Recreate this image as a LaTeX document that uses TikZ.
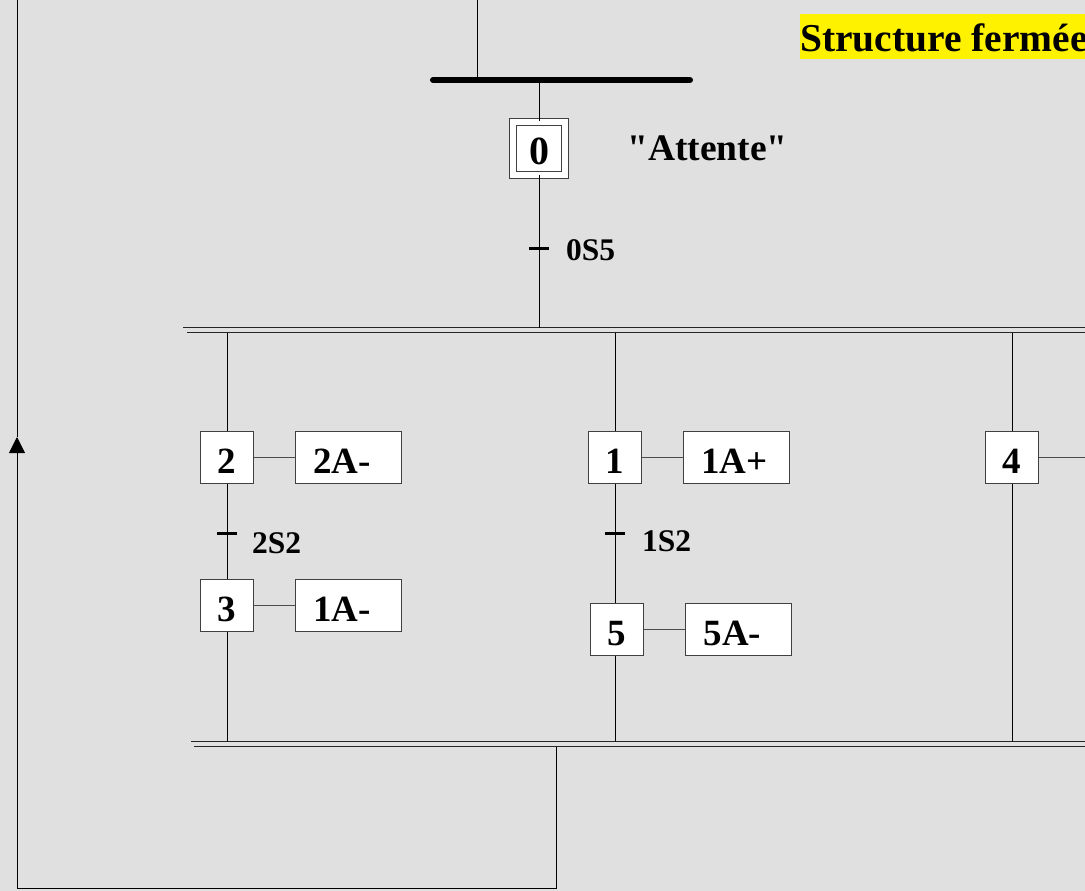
\documentclass[tikz,border=0pt]{standalone}
\usepackage{fontspec}
\setmainfont{Liberation Serif}[Ligatures=TeXOff]
\usetikzlibrary{arrows.meta}
\definecolor{fond}{HTML}{E0E0E0}

\begin{document}
\begin{tikzpicture}[x=1pt,y=-1pt,
    lien/.style={draw,black,line width=1pt},
    renvoi/.style={draw,black!70,line width=1pt},
    barre/.style={draw,black!85,line width=1.5pt},
    etape/.style={draw=black!75,fill=white,line width=1pt,minimum width=53pt,minimum height=52pt,inner sep=0pt,text height=32pt,text depth=0pt,font=\fontsize{37}{40}\selectfont\bfseries},
    etapeinit/.style={etape,double=white,double distance=6pt,minimum width=52pt,minimum height=53pt,font=\fontsize{40}{44}\selectfont\bfseries},
    action/.style={draw=black!75,fill=white,line width=1pt,text width=70pt,inner xsep=18pt,inner ysep=0pt,minimum height=52pt,align=left,text height=32pt,text depth=0pt,font=\fontsize{37}{40}\selectfont\bfseries},
    recep/.style={fill=black,minimum width=20pt,minimum height=3pt,inner sep=0pt},
    cond/.style={anchor=west,inner sep=0pt,font=\fontsize{31.5}{34}\selectfont\bfseries}]

    \fill[fond] (0,0) rectangle (1085,891);
    \useasboundingbox (0,0) rectangle (1085,891);

    % titre
    \node[anchor=base west,fill=yellow,inner xsep=0pt,inner ysep=0pt,text height=38pt,text depth=7pt,font=\fontsize{39.5}{44}\selectfont\bfseries] (titre) at (800,52) {Structure fermée};

    % etape initiale
    \coordinate (s0) at (477,0);
    \coordinate (s1) at (477,80);
    \coordinate (bg) at (433,80);
    \coordinate (bd) at (690,80);
    \path[draw,line width=6pt,line cap=round] (bg) -- (bd);
    \path[lien] (s0) -- (s1);
    \node[etapeinit] (e0) at (539,148) {0};
    \node[anchor=west,inner sep=0pt,font=\fontsize{37.5}{40}\selectfont\bfseries] (nom0) at (627,148) {"Attente"};
    \path[lien] (e0.north |- bd) -- (e0.north);
    \node[recep] (t0) at (539,248) {};
    \node[cond] (c0) at (566,250) {0S5};

    % divergence en ET
    \coordinate (ha1) at (183,327.5);
    \coordinate (ha2) at (1085,327.5);
    \coordinate (hb1) at (187,332.5);
    \coordinate (hb2) at (1085,332.5);
    \path[barre] (ha1) -- (ha2);
    \path[barre] (hb1) -- (hb2);
    \path[lien] (e0.south) -- (e0.south |- ha1);

    % branche gauche
    \node[etape] (e2) at (227,457) {2};
    \node[action] (a2) at (348,457) {2A-};
    \node[etape] (e3) at (227,605) {3};
    \node[action] (a3) at (348,605) {1A-};
    \node[recep] (t2) at (227,533) {};
    \node[cond] (c2) at (252,543) {2S2};

    % branche milieu
    \node[etape] (e1) at (615,457) {1};
    \node[action] (a1) at (736,457) {1A+};
    \node[etape] (e5) at (617,629.5) {5};
    \node[action] (a5) at (738.5,629.5) {5A-};
    \node[recep] (t1) at (615,533) {};
    \node[cond] (c1) at (642,541) {1S2};

    % branche droite
    \node[etape] (e4) at (1012,457) {4};
    \coordinate (x4) at (1085,457);

    % convergence en ET
    \coordinate (ba1) at (191,741.5);
    \coordinate (ba2) at (1085,741.5);
    \coordinate (bb1) at (194,746.5);
    \coordinate (bb2) at (1085,746.5);
    \path[barre] (ba1) -- (ba2);
    \path[barre] (bb1) -- (bb2);

    \path[lien] (e2.north |- hb1) -- (e2.north);
    \path[lien] (e2.south) -- (e3.north);
    \path[lien] (e3.south) -- (e3.south |- ba1);
    \path[lien] (e1.north |- hb1) -- (e1.north);
    \path[lien] (e1.south) -- (e1.south |- e5.north);
    \path[lien] (e1.south |- e5.south) -- (e1.south |- ba1);
    \path[lien] (e4.north |- hb1) -- (e4.north);
    \path[lien] (e4.south) -- (e4.south |- ba2);

    \path[renvoi] (e2) -- (a2);
    \path[renvoi] (e3) -- (a3);
    \path[renvoi] (e1) -- (a1);
    \path[renvoi] (e5) -- (a5);
    \path[renvoi] (e4) -- (x4);

    % retour
    \coordinate (r0) at (556,746.5);
    \coordinate (r1) at (556,888);
    \coordinate (r2) at (17,888);
    \coordinate (r3) at (17,437);
    \coordinate (r4) at (17,0);
    \path[lien,-{Triangle[length=16pt,width=16pt]}] (r0) -- (r1) -- (r2) -- (r3);
    \path[lien] (r3) -- (r4);

  \end{tikzpicture}
\end{document}
